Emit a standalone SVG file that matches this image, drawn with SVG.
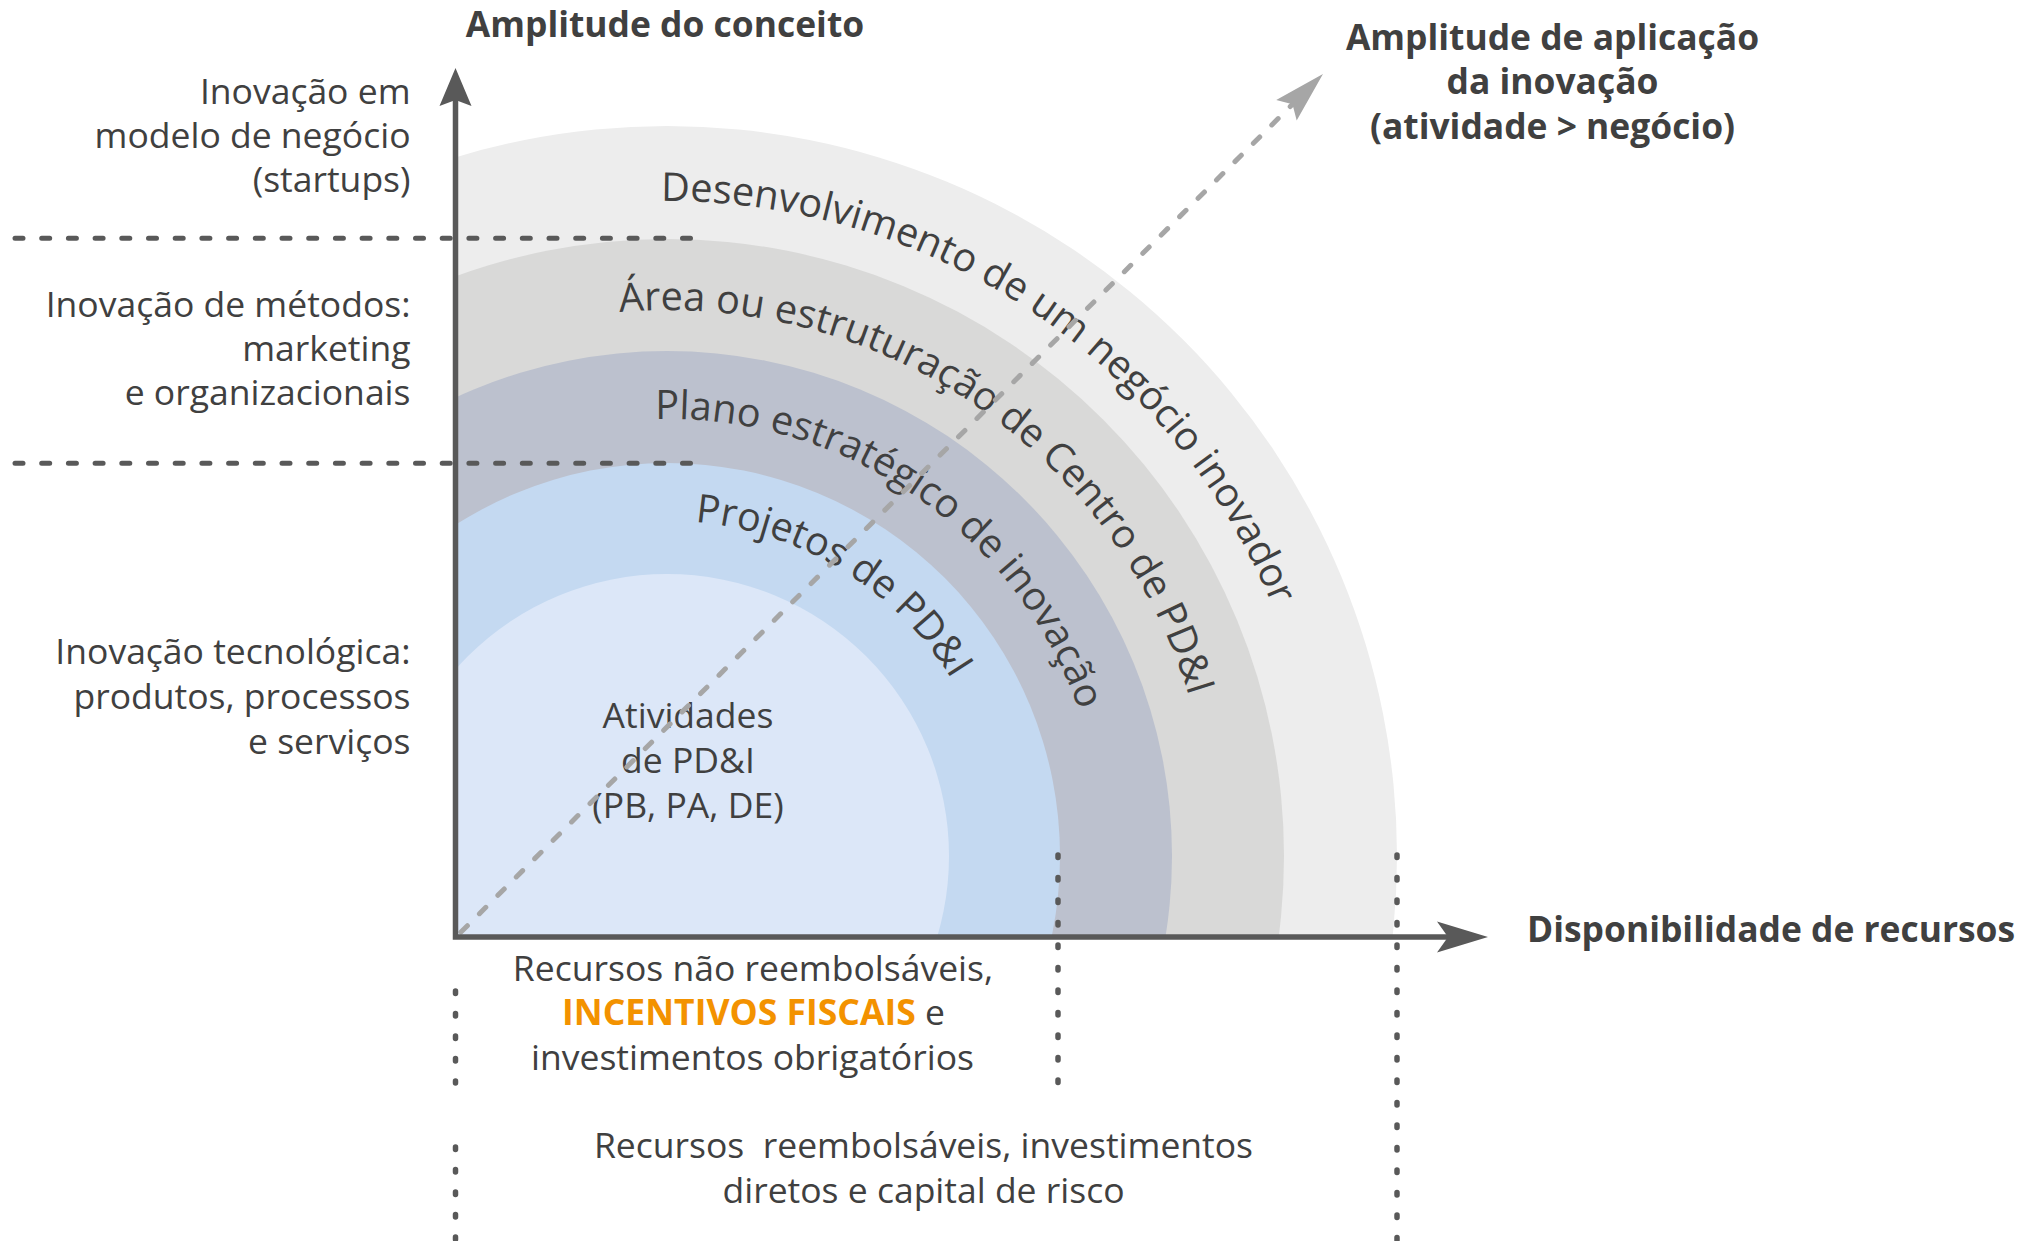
<svg xmlns="http://www.w3.org/2000/svg" width="2028" height="1241" viewBox="0 0 2028 1241">
<defs>
<style>
.t{font-family:"Open Sans","Noto Sans","Liberation Sans",sans-serif;font-size:35.5px;fill:#404040}
.b{font-family:"Open Sans","Noto Sans","Liberation Sans",sans-serif;font-size:35.4px;font-weight:bold;fill:#404040}
.r{font-family:"Open Sans","Noto Sans","Liberation Sans",sans-serif;font-size:39.6px;fill:#404040}
.or{font-weight:bold;fill:#F39200}
.axis{fill:none;stroke:#595959;stroke-width:5.5;stroke-linejoin:miter}
.dash{fill:none;stroke:#595959;stroke-width:5;stroke-linecap:round;stroke-dasharray:8 18.7}
.dot{fill:none;stroke:#595959;stroke-width:5.5;stroke-linecap:round;stroke-dasharray:2.5 20}
.diag{fill:none;stroke:#A6A6A6;stroke-width:5;stroke-linecap:round;stroke-dasharray:9 17}
</style>
<clipPath id="quad"><rect x="455" y="0" width="1573" height="937"/></clipPath>
<marker id="ahH" markerUnits="userSpaceOnUse" viewBox="-14 -16 53 32" refX="0" refY="0" markerWidth="53" markerHeight="32" orient="auto">
<path d="M38,0 L-13,-15.5 L-2,0 L-13,15.5 Z" fill="#595959"/>
</marker>
<marker id="ahV" markerUnits="userSpaceOnUse" viewBox="-9 -17 40 34" refX="0" refY="0" markerWidth="40" markerHeight="34" orient="auto-start-reverse">
<path d="M30,0 L-8,-16 L-2,0 L-8,16 Z" fill="#595959"/>
</marker>
<marker id="ahD" markerUnits="userSpaceOnUse" viewBox="-12 -16 54 32" refX="0" refY="0" markerWidth="54" markerHeight="32" orient="auto">
<path d="M41,0 L-10.5,-14.5 L-2,0 L-10.5,14.5 Z" fill="#A6A6A6"/>
</marker>
<path id="p1" d="M191.9,405.1 A655,655 0 0 1 1267.7,1117.2"/>
<path id="p2" d="M274.3,476.7 A546,546 0 0 1 1165.8,1078.1"/>
<path id="p3" d="M355.3,549.7 A437,437 0 0 1 1064.7,1037.2"/>
<path id="p4" d="M416.1,634.0 A335,335 0 0 1 978.7,978.8"/>
</defs>
<rect width="2028" height="1241" fill="#FFFFFF"/>

<g id="rings" clip-path="url(#quad)">
<g id="ring-negocio">
<circle cx="667" cy="856" r="730" fill="#EDEDED"/>
</g>
<g id="ring-centro">
<circle cx="667" cy="856" r="617" fill="#D9D9D8"/>
</g>
<g id="ring-plano">
<circle cx="667" cy="856" r="505" fill="#BCC1CE"/>
</g>
<g id="ring-projetos">
<circle cx="667" cy="856" r="393" fill="#C4D9F1"/>
</g>
<g id="ring-atividades">
<circle cx="667" cy="856" r="282" fill="#DCE7F8"/>
</g>
</g>

<g id="ring-labels">
<text class="r"><textPath href="#p1" startOffset="50%" text-anchor="middle">Desenvolvimento de um negócio inovador</textPath></text>
<text class="r"><textPath href="#p2" startOffset="50%" text-anchor="middle">Área ou estruturação de Centro de PD&amp;I</textPath></text>
<text class="r"><textPath href="#p3" startOffset="50%" text-anchor="middle">Plano estratégico de inovação</textPath></text>
<text class="r"><textPath href="#p4" startOffset="50%" text-anchor="middle">Projetos de PD&amp;I</textPath></text>
<text class="t" text-anchor="middle"><tspan x="688" y="727.5">Atividades</tspan><tspan x="688" y="772.5">de PD&amp;I</tspan><tspan x="688" y="817.5">(PB, PA, DE)</tspan></text>
</g>

<g id="connectors">
<path class="dash" d="M15,238.3 H698"/>
<path class="dash" d="M15,463.3 H698"/>
<path class="dot" d="M1058,855 V1083"/>
<path class="dot" d="M1397,855 V1241"/>
<path class="dot" d="M455.5,991 V1083"/>
<path class="dot" d="M455.5,1147 V1241"/>
<path class="diag" d="M461,932 L1293.9,102.9" marker-end="url(#ahD)"/>
<path class="axis" d="M455.5,98 V937 H1450" marker-start="url(#ahV)" marker-end="url(#ahH)"/>
</g>

<g id="axis-titles">
<text class="b" x="665" y="36.7" text-anchor="middle">Amplitude do conceito</text>
<text class="b" text-anchor="middle"><tspan x="1552.5" y="49.5">Amplitude de aplicação</tspan><tspan x="1552.5" y="94">da inovação</tspan><tspan x="1552.5" y="138.5">(atividade &gt; negócio)</tspan></text>
<text class="b" x="1527" y="942">Disponibilidade de recursos</text>
</g>

<g id="left-labels">
<text class="t" text-anchor="end"><tspan x="410.5" y="103.5">Inovação em</tspan><tspan x="410.5" y="147.5">modelo de negócio</tspan><tspan x="410.5" y="191.5">(startups)</tspan></text>
<text class="t" text-anchor="end"><tspan x="410.5" y="317">Inovação de métodos:</tspan><tspan x="410.5" y="361">marketing</tspan><tspan x="410.5" y="405">e organizacionais</tspan></text>
<text class="t" text-anchor="end"><tspan x="410.5" y="664">Inovação tecnológica:</tspan><tspan x="410.5" y="709">produtos, processos</tspan><tspan x="410.5" y="754">e serviços</tspan></text>
</g>

<g id="bottom-labels">
<text class="t" text-anchor="middle"><tspan x="753" y="981">Recursos não reembolsáveis,</tspan><tspan x="753.5" y="1025"><tspan class="or">INCENTIVOS FISCAIS</tspan> e</tspan><tspan x="752.5" y="1070">investimentos obrigatórios</tspan></text>
<text class="t" text-anchor="middle" xml:space="preserve"><tspan x="923.5" y="1158">Recursos  reembolsáveis, investimentos</tspan><tspan x="923.5" y="1203">diretos e capital de risco</tspan></text>
</g>
</svg>
